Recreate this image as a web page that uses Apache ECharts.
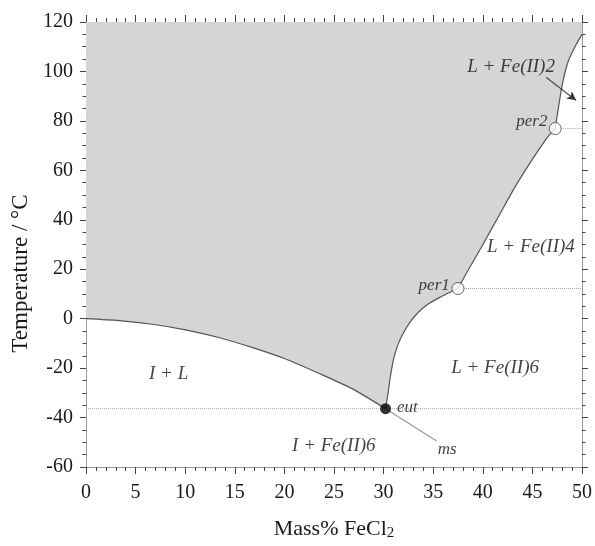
<!DOCTYPE html>
<html>
<head>
<meta charset="utf-8">
<script src="https://cdn.jsdelivr.net/npm/echarts@6/dist/echarts.min.js"></script>
<style>
  html, body { margin: 0; padding: 0; background: #fff; }
  #chart { width: 595px; height: 546px; }
</style>
</head>
<body>
<div id="chart"></div>
<script>
// FeCl2–H2O phase diagram: liquidus branches, invariant points and tie lines.

// Ice liquidus (freezing-point curve)
const iceX = [0, 3.35, 6.69, 10.03, 13.38, 16.72, 20.07, 23.41, 26.76, 30.2];
const iceT = [0, -0.8, -2.25, -4.5, -7.6, -11.6, -16.2, -22.0, -28.2, -36.4];

// FeCl2·6H2O solubility branch
const hexX = [30.2, 30.45, 30.7, 31.0, 31.4, 31.9, 32.6, 33.5, 34.6, 35.8, 36.8, 37.5];
const hexT = [-36.4, -30.0, -23.0, -16.5, -11.0, -6.5, -1.8, 2.6, 6.2, 8.9, 10.9, 12.2];

// FeCl2·4H2O solubility branch
const tetX = [37.5, 38.53, 39.87, 41.54, 43.21, 44.88, 46.56, 47.3];
const tetT = [12.2, 19.7, 29.0, 41.0, 53.0, 63.7, 73.6, 76.9];

// FeCl2·2H2O solubility branch
const diX = [47.3, 47.66, 48.06, 48.57, 49.24, 50];
const diT = [76.9, 86.3, 95.6, 103.6, 109.6, 115.0];

// Metastable extension of the ice curve below the eutectic
const msX = [30.2, 35.35];
const msT = [-36.4, -49.5];

// Invariant points
const eutPoint = [30.2, -36.4];
const per1Point = [37.5, 12.2];
const per2Point = [47.3, 76.9];

// Axis ticks
const xTicks = [0, 5, 10, 15, 20, 25, 30, 35, 40, 45, 50];
const yTicks = [-60, -40, -20, 0, 20, 40, 60, 80, 100, 120];

const zip = (xs, ys) => xs.map((x, i) => [x, ys[i]]);

const iceLine = zip(iceX, iceT);
const hexLine = zip(hexX, hexT);
const tetLine = zip(tetX, tetT);
const diLine = zip(diX, diT);
const msLine = zip(msX, msT);

// Whole liquidus, used for the shaded liquid field above it
const liquidus = iceLine
  .concat(hexLine.slice(1))
  .concat(tetLine.slice(1))
  .concat(diLine.slice(1));

const xMin = xTicks[0], xMax = xTicks[xTicks.length - 1];
const yMin = yTicks[0], yMax = yTicks[yTicks.length - 1];

const serif = '"Liberation Serif", "Times New Roman", serif';

const curveStyle = { color: '#555', width: 1.2 };
const tieStyle = { color: '#aaa', width: 1, type: 'dotted' };

function curveSeries(data, style) {
  return {
    type: 'line', data, showSymbol: false, symbol: 'none', smooth: 0.25,
    lineStyle: style || curveStyle, z: 4, silent: true
  };
}

function tieSeries(from) {
  return {
    type: 'line', data: [from, [xMax, from[1]]], showSymbol: false, symbol: 'none',
    lineStyle: tieStyle, z: 3, silent: true
  };
}

function regionLabel(text, x, y, opts) {
  return {
    value: [x, y], name: text,
    label: Object.assign({ show: true, formatter: '{b}', position: 'inside' }, opts || {})
  };
}

const labelSeries = {
  type: 'scatter', symbolSize: 1, z: 6, silent: true,
  itemStyle: { color: 'rgba(0,0,0,0)' },
  label: {
    show: true, formatter: '{b}', position: 'inside',
    fontFamily: serif, fontStyle: 'italic', fontSize: 19, color: '#111',
    textBorderWidth: 0
  },
  data: [
    regionLabel('I + L', 8.33, -22.5),
    regionLabel('I + Fe(II)6', 24.98, -51.6),
    regionLabel('L + Fe(II)6', 41.24, -20.1),
    regionLabel('L + Fe(II)4', 44.85, 29.0),
    regionLabel('L + Fe(II)2', 42.85, 101.7),
    regionLabel('per1', 36.72, 13.5, { position: 'left', distance: 0, fontSize: 17 }),
    regionLabel('per2', 46.56, 79.8, { position: 'left', distance: 0, fontSize: 17 }),
    regionLabel('eut', 31.3, -36.1, { position: 'right', distance: 0, fontSize: 17 }),
    regionLabel('ms', 36.42, -52.8, { fontSize: 17 })
  ]
};

const axisLineStyle = { color: '#999', width: 1 };
const tickStyle = { color: '#444', width: 1 };

function xAxisDef(position, showLabels) {
  return {
    type: 'value', position, min: xMin, max: xMax, interval: 5,
    axisLine: { show: true, onZero: false, lineStyle: axisLineStyle },
    axisTick: { show: true, inside: false, length: 7, lineStyle: tickStyle },
    minorTick: { show: true, splitNumber: 5, length: 4, lineStyle: tickStyle },
    splitLine: { show: false },
    axisLabel: {
      show: showLabels, margin: 16, fontFamily: serif, fontSize: 20, color: '#1a1a1a'
    }
  };
}

function yAxisDef(position, showLabels) {
  return {
    type: 'value', position, min: yMin, max: yMax, interval: 20,
    axisLine: { show: true, onZero: false, lineStyle: axisLineStyle },
    axisTick: { show: true, inside: false, length: 6, lineStyle: tickStyle },
    minorTick: { show: true, splitNumber: 4, length: 3.5, lineStyle: tickStyle },
    splitLine: { show: false },
    axisLabel: {
      show: showLabels, margin: 13, fontFamily: serif, fontSize: 20, color: '#1a1a1a'
    }
  };
}

const xBottom = xAxisDef('bottom', true);
xBottom.name = 'Mass% FeCl{sub|2}';
xBottom.nameLocation = 'middle';
xBottom.nameGap = 50;
xBottom.nameTextStyle = {
  fontFamily: serif, fontSize: 22, color: '#1a1a1a', lineHeight: 24,
  rich: { sub: { fontFamily: serif, fontSize: 15, color: '#1a1a1a', verticalAlign: 'bottom', lineHeight: 14 } }
};

const yLeft = yAxisDef('left', true);
yLeft.name = 'Temperature / °C';
yLeft.nameLocation = 'middle';
yLeft.nameRotate = 90;
yLeft.nameGap = 54;
yLeft.nameTextStyle = {
  fontFamily: serif, fontSize: 23, color: '#1a1a1a', padding: [0, 58, 0, 0]
};

const option = {
  animation: false,
  backgroundColor: '#fff',
  grid: { left: 86, right: 11, top: 22, bottom: 73, containLabel: false },
  xAxis: [xBottom, xAxisDef('top', false)],
  yAxis: [yLeft, yAxisDef('right', false)],
  series: [
    // liquid field, shaded up to the top of the plot
    {
      type: 'line', data: liquidus, showSymbol: false, symbol: 'none',
      lineStyle: { width: 0 },
      areaStyle: { origin: 'end', color: '#d5d5d5', opacity: 1 },
      z: 1, silent: true
    },
    tieSeries([xMin, eutPoint[1]]),
    tieSeries(per1Point),
    tieSeries(per2Point),
    curveSeries(iceLine),
    curveSeries(hexLine),
    curveSeries(tetLine),
    curveSeries(diLine),
    curveSeries(msLine, { color: '#999', width: 1.2 }),
    // arrow pointing into the narrow L + Fe(II)2 field
    {
      type: 'line', data: [], silent: true,
      markLine: {
        silent: true, symbol: ['none', 'arrow'], symbolSize: [7, 9],
        label: { show: false },
        lineStyle: { color: '#333', width: 1.2, type: 'solid' },
        data: [[{ coord: [46.39, 97.6] }, { coord: [49.4, 88.3] }]]
      }
    },
    // invariant points
    {
      type: 'scatter', data: [eutPoint], symbol: 'circle', symbolSize: 11, z: 5, silent: true,
      itemStyle: { color: '#000' }
    },
    {
      type: 'scatter', data: [per1Point, per2Point], symbol: 'circle', symbolSize: 12, z: 5, silent: true,
      itemStyle: { color: '#fff', borderColor: '#444', borderWidth: 1 }
    },
    labelSeries
  ]
};

const chart = echarts.init(document.getElementById('chart'), null, { renderer: 'canvas' });
chart.setOption(option);
</script>
</body>
</html>
